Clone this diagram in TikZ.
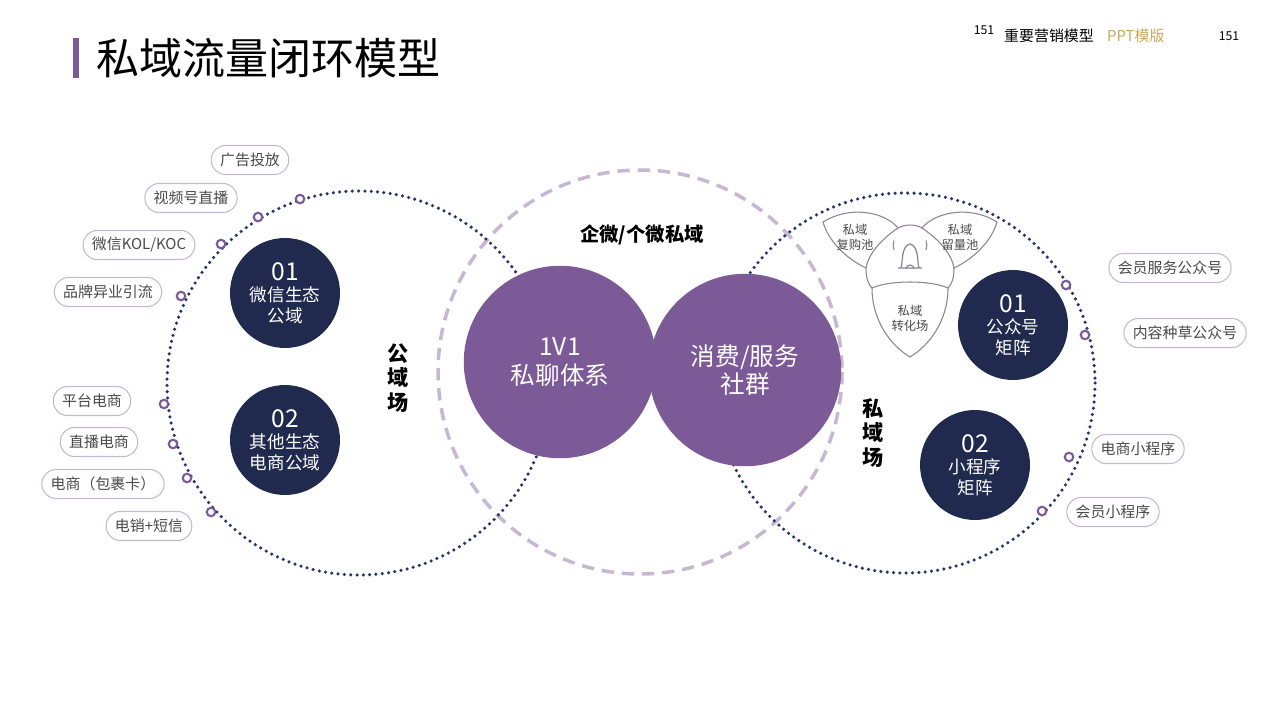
\documentclass[tikz,border=0pt]{standalone}
\usepackage{fontspec}
\setmainfont{Noto Sans CJK SC}
\definecolor{pur}{HTML}{7B5A97}
\definecolor{navy}{HTML}{1F2A4E}
\definecolor{dotc}{HTML}{26366A}
\definecolor{dashc}{HTML}{C7B8D2}
\definecolor{gold}{HTML}{C8A860}
\definecolor{txt}{HTML}{4A4A4A}
\definecolor{pline}{HTML}{8E8298}
\begin{document}
\begin{tikzpicture}[x=0.02cm,y=-0.02cm,
 pill/.style={draw=dashc,fill=white,rounded corners=8pt,line width=0.6pt,inner xsep=5pt,minimum height=0.58cm,font=\fontsize{8.5pt}{10pt}\selectfont,text=txt},
 ring/.style={circle,draw=pur,fill=white,line width=1.2pt,minimum size=0.17cm,inner sep=0pt},
 navyc/.style={circle,fill=navy,text=white,minimum size=2.2cm,align=center,font=\fontsize{10pt}{12pt}\selectfont},
 purc/.style={circle,fill=pur,text=white,minimum size=3.85cm,align=center,font=\fontsize{14pt}{16pt}\selectfont},
 dotcirc/.style={draw=dotc,line width=2pt,line cap=round,dash pattern=on 0pt off 3.6pt},
 petal/.style={draw=pline,line width=0.6pt,fill=white},
 ptxt/.style={font=\fontsize{7pt}{8.5pt}\selectfont,align=center,text=txt}]
\useasboundingbox (0,0) rectangle (1280,720);
% header
\fill[pur] (73,38) rectangle (79,78);
\node[anchor=west,font=\fontsize{24.5pt}{26pt}\selectfont,text=black] (title) at (90,58) {私域流量闭环模型};
\node[font=\fontsize{7pt}{8pt}\selectfont] (n1) at (984,30) {151};
\node[anchor=west,font=\fontsize{8.5pt}{10pt}\selectfont] (h1) at (998,36) {重要营销模型};
\node[anchor=west,font=\fontsize{8.5pt}{10pt}\selectfont,text=gold] (h2) at (1101,36) {PPT模版};
\node[font=\fontsize{7pt}{8pt}\selectfont] (n2) at (1229,36) {151};
% big circles
\fill[white] (359,383) circle (192);
\fill[white] (905,383) circle (190);
\draw[dashc,line width=2pt,dash pattern=on 7pt off 4.5pt] (640,372) circle (202);
\draw[dotcirc] (359,383) circle (192);
\draw[dotcirc] (905,383) circle (190);
% purple circles
\node[purc] (pl) at (560,362) {1V1\\私聊体系};
\node[purc] (pr) at (745,370) {消费/服务\\社群};
\node[font=\bfseries\fontsize{11pt}{13pt}\selectfont] (qw) at (642,235) {企微/个微私域};
\node[font=\bfseries\fontsize{12pt}{14pt}\selectfont,align=center] (gy) at (398,378) {公\\域\\场};
\node[font=\bfseries\fontsize{12pt}{14pt}\selectfont,align=center] (sy) at (873,433) {私\\域\\场};
% navy circles
\node[navyc] (c1) at (285,293) {{\fontsize{14pt}{16pt}\selectfont 01}\\微信生态\\公域};
\node[navyc] (c2) at (285,440) {{\fontsize{14pt}{16pt}\selectfont 02}\\其他生态\\电商公域};
\node[navyc] (c3) at (1013,325) {{\fontsize{14pt}{16pt}\selectfont 01}\\公众号\\矩阵};
\node[navyc] (c4) at (975,465) {{\fontsize{14pt}{16pt}\selectfont 02}\\小程序\\矩阵};
% petals
\draw[petal] (823,222) .. controls (850,205) and (885,212) .. (898,228) .. controls (880,240) and (868,255) .. (866,268) .. controls (845,258) and (828,240) .. (823,222) -- cycle;
\draw[petal] (997,222) .. controls (970,205) and (935,212) .. (922,228) .. controls (940,240) and (952,255) .. (954,268) .. controls (975,258) and (992,240) .. (997,222) -- cycle;
\draw[petal] (872,288) .. controls (890,280) and (930,280) .. (948,288) .. controls (948,320) and (930,345) .. (910,357) .. controls (890,345) and (872,320) .. (872,288) -- cycle;
\draw[pline,line width=0.6pt] (898,228) .. controls (905,224) and (915,224) .. (922,228);
\draw[pline,line width=0.6pt] (866,268) .. controls (866,278) and (868,284) .. (872,288);
\draw[pline,line width=0.6pt] (954,268) .. controls (954,278) and (952,284) .. (948,288);
\node[ptxt] (p1) at (855,237) {私域\\复购池};
\node[ptxt] (p2) at (960,237) {私域\\留量池};
\node[ptxt] (p3) at (910,318) {私域\\转化场};
\coordinate (bell) at (910,258);
\draw[pline,line width=0.7pt] (898,268) -- (922,268) (901,268) .. controls (903,262) and (901,246) .. (910,244) .. controls (919,246) and (917,262) .. (919,268);
\draw[pline,line width=0.7pt] (906,269) arc (180:360:4);
\draw[pline,line width=0.6pt] (894,250) arc (160:200:14) (926,250) arc (20:-20:14);
% pills
\node[pill] (l1) at (250,160) {广告投放};
\node[pill] (l2) at (191,198) {视频号直播};
\node[pill] (l3) at (139,245) {微信KOL/KOC};
\node[pill] (l4) at (108,292) {品牌异业引流};
\node[pill] (l5) at (92,401) {平台电商};
\node[pill] (l6) at (99,442) {直播电商};
\node[pill] (l7) at (103,484) {电商（包裹卡）};
\node[pill] (l8) at (149,526) {电销+短信};
\node[pill] (r1) at (1170,268) {会员服务公众号};
\node[pill] (r2) at (1185,333) {内容种草公众号};
\node[pill] (r3) at (1138,449) {电商小程序};
\node[pill] (r4) at (1113,512) {会员小程序};
% rings
\foreach \n/\x/\y in {a/300/199,b/258/217,c/221/244,d/181/296,e/164/404,f/173/444,g/187/478,h/211/512,i/1066/285,j/1085/335,k/1069/457,l/1042/511}
  \node[ring] (m\n) at (\x,\y) {};
\end{tikzpicture}
\end{document}
